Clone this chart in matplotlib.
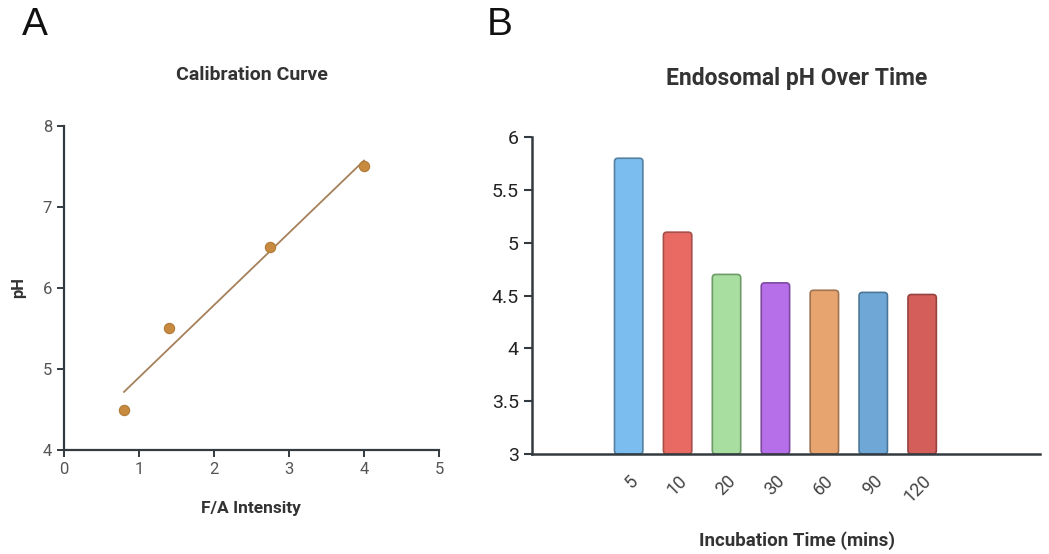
import numpy as np
import matplotlib
matplotlib.use('Agg')
import matplotlib.pyplot as plt
from matplotlib.patches import FancyBboxPatch

plt.rcParams['font.family'] = ['Roboto', 'DejaVu Sans']

# calibration data
fa_intensity = [0.8, 1.4, 2.75, 4.0]
ph_values = [4.5, 5.5, 6.5, 7.5]

# endosomal pH
time_labels = ['5', '10', '20', '30', '60', '90', '120']
endo_ph = [5.8, 5.1, 4.7, 4.62, 4.55, 4.53, 4.51]
bar_colors = ['#7bbdee', '#e86a63', '#a8dfa0', '#b66fe8', '#e8a46f', '#6fa8d6', '#d35e5a']
edge_colors = ['#55809f', '#a5504b', '#6e9a68', '#7d4aa0', '#a07450', '#4a7699', '#964340']

axis_col = '#333a40'

fig = plt.figure(figsize=(10.49, 5.54), dpi=100)

# ---- panel A
ax1 = fig.add_axes([0.061, 0.1877, 0.3575, 0.585])
slope, icpt = np.polyfit(fa_intensity, ph_values, 1)
xs = np.array([min(fa_intensity), max(fa_intensity)])
ax1.plot(xs, slope * xs + icpt, color='#a5805a', lw=1.3, zorder=2)
ax1.scatter(fa_intensity, ph_values, s=55, color='#c88a3e', edgecolor='#b07a38',
            lw=0.8, zorder=3)
ax1.set_xlim(0, 5)
ax1.set_ylim(4, 8)
ax1.set_xticks(range(0, 6))
ax1.set_yticks(range(4, 9))
for s in ['top', 'right']:
    ax1.spines[s].set_visible(False)
for s in ['left', 'bottom']:
    ax1.spines[s].set_color(axis_col)
    ax1.spines[s].set_linewidth(1.6)
ax1.tick_params(colors=axis_col, labelcolor='#555555', labelsize=12, length=5, width=1.4)
ax1.set_ylabel('pH', fontsize=12, fontweight='bold', color='#333333', labelpad=12)

fig.text(251 / 1049, 1 - 508 / 554, 'F/A Intensity', ha='center', va='center',
         fontsize=12.5, fontweight='bold', color='#333333')
fig.text(252 / 1049, 1 - 75 / 554, 'Calibration Curve', ha='center', va='center',
         fontsize=14, fontweight='bold', color='#333333')

# ---- panel B
ax2 = fig.add_axes([0.507, 0.1805, 0.484, 0.572])
pos = np.arange(len(endo_ph))
bars = ax2.bar(pos, np.array(endo_ph) - 3, bottom=3, width=0.58, color=bar_colors,
               edgecolor=edge_colors, lw=1.2, zorder=2)
# swap plain bars for rounded ones
for b in bars:
    rb = FancyBboxPatch((b.get_x(), b.get_y()), b.get_width(), b.get_height(),
                        boxstyle='round,pad=0,rounding_size=0.07', mutation_aspect=0.46,
                        facecolor=b.get_facecolor(), edgecolor=b.get_edgecolor(),
                        lw=1.2, zorder=2)
    b.remove()
    ax2.add_patch(rb)
ax2.set_xlim(-1.98, 8.4)
ax2.set_ylim(3, 6)
ax2.set_yticks([3, 3.5, 4, 4.5, 5, 5.5, 6])
ax2.set_yticklabels(['3', '3.5', '4', '4.5', '5', '5.5', '6'])
ax2.set_xticks(pos)
ax2.set_xticklabels(time_labels, rotation=45, ha='right', rotation_mode='anchor')
for s in ['top', 'right']:
    ax2.spines[s].set_visible(False)
for s in ['left', 'bottom']:
    ax2.spines[s].set_color(axis_col)
    ax2.spines[s].set_linewidth(1.8)
ax2.spines['bottom'].set_zorder(3)
ax2.tick_params(axis='y', colors=axis_col, labelcolor='#222222', labelsize=14, length=6, width=1.5)
ax2.tick_params(axis='x', length=0, labelcolor='#444444', labelsize=13, pad=13)

fig.text(797 / 1049, 1 - 541 / 554, 'Incubation Time (mins)', ha='center', va='center',
         fontsize=13.5, fontweight='bold', color='#333333')
fig.text(797 / 1049, 1 - 78 / 554, 'Endosomal pH Over Time', ha='center', va='center',
         fontsize=16.5, fontweight='bold', color='#333333')

fig.text(22 / 1049, 1 - 25 / 554, 'A', ha='left', va='center', fontsize=28,
         family=['Liberation Sans', 'DejaVu Sans'], color='#111111')
fig.text(487 / 1049, 1 - 25 / 554, 'B', ha='left', va='center', fontsize=28,
         family=['Liberation Sans', 'DejaVu Sans'], color='#111111')

fig.savefig('out.png', dpi=100)
